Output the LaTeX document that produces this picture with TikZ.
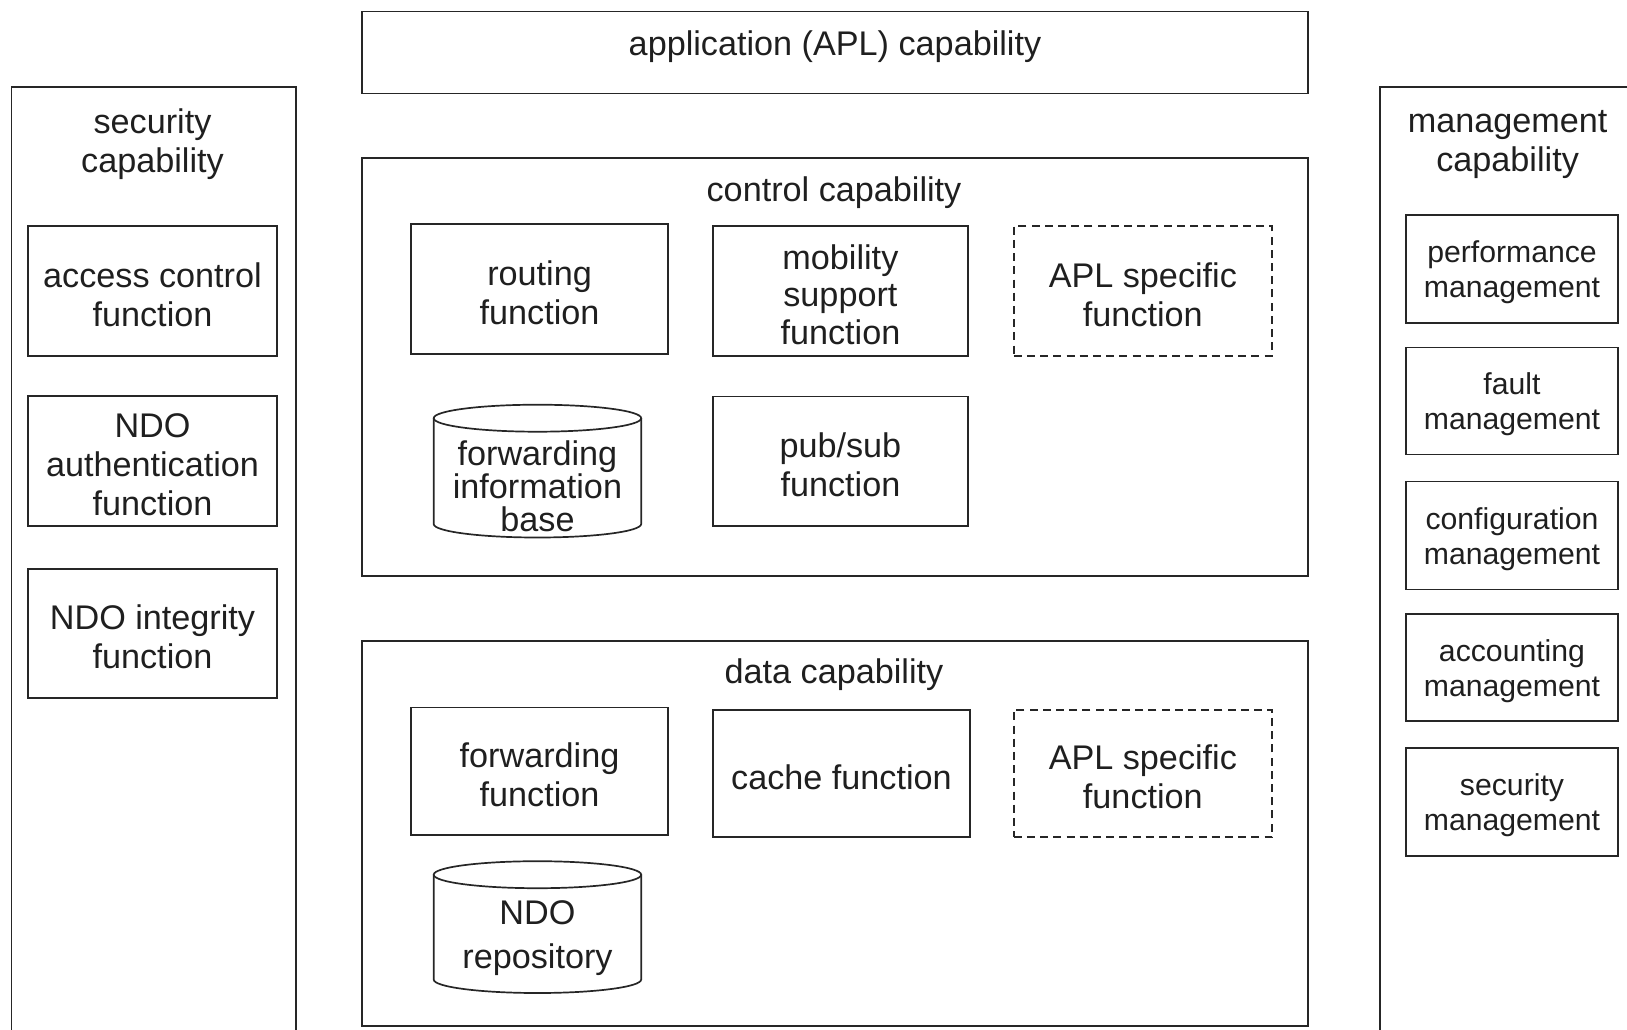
\documentclass[tikz,border=0pt]{standalone}
\usepackage{fontspec}
\setmainfont{Liberation Sans}
\usetikzlibrary{fit}
\begin{document}
\begin{tikzpicture}[x=0.5pt,y=-0.5pt,
  line/.style={draw=black!85, line width=0.85pt},
  bigtext/.style={font=\fontsize{17.1}{19.5}\selectfont, text=black!88, align=center, inner sep=0pt},
  smalltext/.style={font=\fontsize{15.1}{17.5}\selectfont, text=black!88, align=center, inner sep=0pt},
  lbl/.style={yshift=-1.8pt},
  fnbox/.style={line, inner sep=0pt},
  optbox/.style={fnbox, dash pattern=on 4pt off 2.6pt},
  cyl/.style={line},
]
\useasboundingbox (0,0) rectangle (1627,1029);
\clip (0,0) rectangle (1627,1029);

% outer capability frames
\node[fnbox, fit={(362,11.4)(1308,93.4)}] (apl) {};
\node[bigtext] (apltitle) at (835,47) {application (APL) capability};

\node[fnbox, fit={(362,157.7)(1308,575.9)}] (ctrl) {};
\node[bigtext] (ctrltitle) at (834,193) {control capability};

\node[fnbox, fit={(362,641.2)(1308,1026)}] (data) {};
\node[bigtext] (datatitle) at (834,675) {data capability};

% side frames continue past the lower and right borders
\draw[line] (11.4,1060) -- (11.4,87.2) -- (295.7,87.2) -- (295.7,1060);
\node[bigtext] (sectitle) at (152.5,144) {security\\capability};

\draw[line] (1700,87.2) -- (1380,87.2) -- (1380,1060);
\node[bigtext] (mgtitle) at (1507.6,144) {management\\capability};

% security functions
\node[fnbox, fit={(28,226)(277,356)}] (acf) {};
\node[bigtext, lbl] (acftxt) at (acf) {access control\\function};
\node[fnbox, fit={(28,396)(277,526)}] (ndoauth) {};
\node[bigtext, lbl] (ndoauthtxt) at (ndoauth) {NDO\\authentication\\function};
\node[fnbox, fit={(28,569)(277,698)}] (ndoint) {};
\node[bigtext, lbl] (ndointtxt) at (ndoint) {NDO integrity\\function};

% management functions
\node[fnbox, fit={(1406,214.8)(1618,322.7)}] (perf) {};
\node[smalltext, lbl] (perftxt) at (perf) {performance\\management};
\node[fnbox, fit={(1406,347.6)(1618,454.5)}] (fault) {};
\node[smalltext, lbl] (faulttxt) at (fault) {fault\\management};
\node[fnbox, fit={(1406,481.4)(1618,589.4)}] (conf) {};
\node[smalltext, lbl] (conftxt) at (conf) {configuration\\management};
\node[fnbox, fit={(1406,614.3)(1618,721.1)}] (acct) {};
\node[smalltext, lbl] (accttxt) at (acct) {accounting\\management};
\node[fnbox, fit={(1406,748.1)(1618,856)}] (secm) {};
\node[smalltext, lbl] (secmtxt) at (secm) {security\\management};

% control functions
\node[fnbox, fit={(410.9,224)(668.2,353.8)}] (routing) {};
\node[bigtext, lbl] (routingtxt) at (routing) {routing\\function};
\node[fnbox, fit={(712.8,226.2)(968,355.9)}] (mobility) {};
\node[bigtext, lbl, font=\fontsize{17.1}{18.9}\selectfont] (mobilitytxt) at (mobility) {mobility\\support\\function};
\node[optbox, fit={(1013.7,226.2)(1272,355.9)}] (aplctrl) {};
\node[bigtext, lbl] (aplctrltxt) at (aplctrl) {APL specific\\function};
\node[fnbox, fit={(712.8,396.4)(968,526)}] (pubsub) {};
\node[bigtext, lbl] (pubsubtxt) at (pubsub) {pub/sub\\function};

% forwarding information base (cylinder)
\draw[cyl] (433.7,418.2) -- (433.7,524)
  arc[start angle=180, end angle=360, x radius=51.875pt, y radius=6.75pt]
  -- (641.2,418.2);
\draw[cyl] (537.45,418.2) ellipse [x radius=51.875pt, y radius=6.75pt];
\node[bigtext, font=\fontsize{17.1}{16.4}\selectfont] (fib) at (537.45,486) {forwarding\\information\\base};

% data functions
\node[fnbox, fit={(410.9,707.6)(668.2,835.3)}] (fwd) {};
\node[bigtext, lbl] (fwdtxt) at (fwd) {forwarding\\function};
\node[fnbox, fit={(712.8,709.7)(970.2,837.3)}] (cache) {};
\node[bigtext, lbl] (cachetxt) at (cache) {cache function};
\node[optbox, fit={(1013.7,709.7)(1272,837.3)}] (apldata) {};
\node[bigtext, lbl] (apldatatxt) at (apldata) {APL specific\\function};

% NDO repository (cylinder)
\draw[cyl] (433.7,874.7) -- (433.7,979.5)
  arc[start angle=180, end angle=360, x radius=51.875pt, y radius=6.75pt]
  -- (641.2,874.7);
\draw[cyl] (537.45,874.7) ellipse [x radius=51.875pt, y radius=6.75pt];
\node[bigtext, font=\fontsize{17.1}{21.8}\selectfont] (repo) at (537.45,938) {NDO\\repository};
\end{tikzpicture}
\end{document}
